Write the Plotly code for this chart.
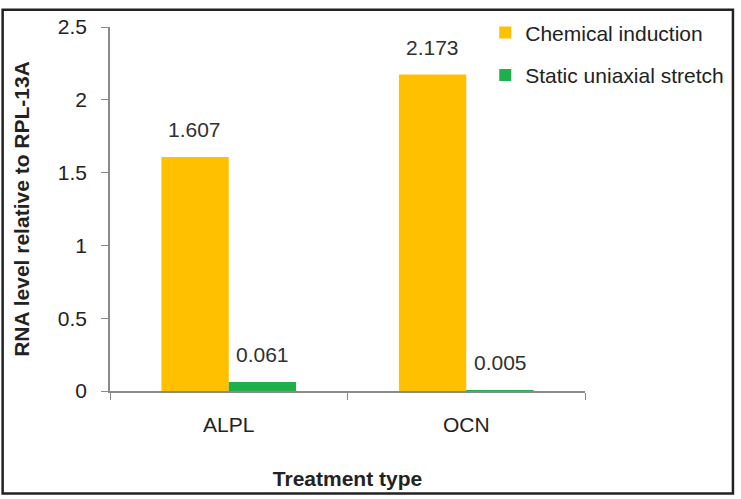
import plotly.graph_objects as go

genes = ["ALPL", "OCN"]
chemical = [1.607, 2.173]
stretch = [0.061, 0.005]
chem_labels = ["1.607", "2.173"]
stretch_labels = ["0.061", "0.005"]

FONT = "Liberation Sans, Arial, sans-serif"
W, H = 741, 499
ml, mr, mt, mb = 110, 151, 22, 106
pw, ph = W - ml - mr, H - mt - mb

fig = go.Figure()
fig.add_trace(go.Bar(
    x=genes, y=chemical, name="Chemical induction",
    marker_color="#FFC000", legendgroup="a",
))
fig.add_trace(go.Bar(
    x=genes, y=stretch, name="Static uniaxial stretch",
    marker_color="#1DB04B", legendgroup="b",
))
fig.update_traces(marker_line_width=0)

# value labels above each bar
half = 34  # px offset of each bar in its group
for vals, labs, dx in [(chemical, chem_labels, -half), (stretch, stretch_labels, half)]:
    for g, v, t in zip(genes, vals, labs):
        fig.add_annotation(
            x=g, y=v, text=t, showarrow=False, xshift=dx, yshift=14,
            yanchor="bottom", font=dict(size=21, color="#303030"),
        )

# outer frame round the picture
fig.add_shape(
    type="rect", xref="paper", yref="paper",
    x0=(1.5 - ml) / pw, x1=(W - 1.5 - ml) / pw,
    y0=-(mb - 1.5) / ph, y1=1 + (mt - 4.5) / ph,
    line=dict(color="#222222", width=2.5), fillcolor="rgba(0,0,0,0)",
)

fig.update_layout(
    width=W, height=H,
    margin=dict(l=ml, r=mr, t=mt, b=mb),
    paper_bgcolor="white", plot_bgcolor="white",
    font=dict(family=FONT, size=21, color="#222222"),
    barmode="group", bargap=0.433, bargroupgap=0,
    showlegend=True,
    legend=dict(
        x=0.79, y=1.04, xanchor="left", yanchor="top",
        font=dict(size=21, color="#222222"),
        tracegroupgap=12, itemwidth=30, bgcolor="rgba(0,0,0,0)",
    ),
    xaxis=dict(
        title=dict(text="<b>Treatment type</b>", standoff=36, font=dict(size=21)),
        showline=True, linecolor="#8A8A8A", linewidth=1.5,
        ticks="outside", tickson="boundaries", ticklen=7, tickcolor="#8A8A8A",
        ticklabelstandoff=14, tickfont=dict(size=21),
        showgrid=False,
    ),
    yaxis=dict(
        title=dict(text="<b>RNA level relative to RPL-13A</b>", standoff=22, font=dict(size=21)),
        range=[0, 2.5], dtick=0.5,
        showline=True, linecolor="#8A8A8A", linewidth=1.5,
        ticks="outside", ticklen=7, tickcolor="#8A8A8A",
        ticklabelstandoff=10, tickfont=dict(size=21),
        showgrid=False, zeroline=False,
    ),
)

fig.write_html(
    "out.html",
    config={"displayModeBar": False},
    post_script="document.body.style.margin='0';document.body.style.overflow='hidden';",
)
